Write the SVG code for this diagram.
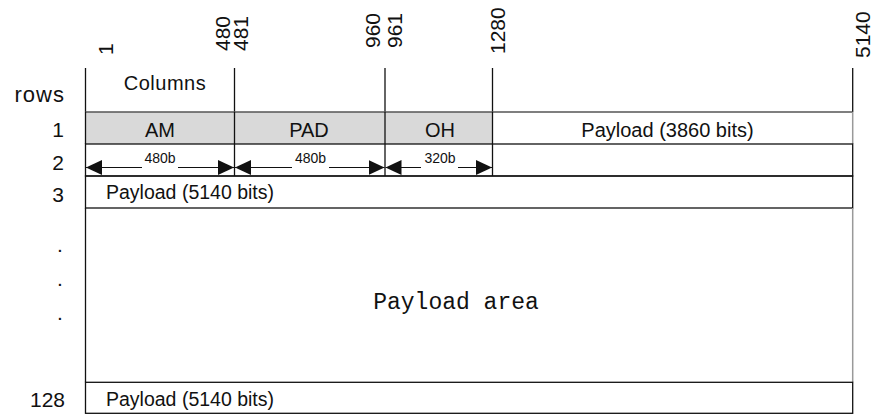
<svg xmlns="http://www.w3.org/2000/svg" width="873" height="415" viewBox="0 0 873 415">
<defs>
<style>
.t{font-family:"Liberation Sans",Arial,sans-serif;fill:#111}
.lbl{font-size:21px}
.cell{font-size:20px;text-anchor:middle}
.pl{font-size:19.5px}
.dim{font-size:14px;text-anchor:middle}
.ln{stroke:#111;stroke-width:1.3;fill:none}
.lg{stroke:#999;stroke-width:1.5;fill:none}
.arr{stroke:#111;stroke-width:1.2;fill:none;marker-end:url(#ah)}
</style>
<marker id="ah" viewBox="0 0 16 15" refX="16" refY="7.5" markerWidth="16" markerHeight="15" markerUnits="userSpaceOnUse" orient="auto">
<path d="M0,0 L16,7.5 L0,15 Z" fill="#111"/>
</marker>
</defs>
<rect width="873" height="415" fill="#fff"/>

<g id="column-numbers" class="t lbl">
<text transform="translate(113,55) rotate(-90)">1</text>
<text transform="translate(230,51) rotate(-90)">480</text>
<text transform="translate(248,51) rotate(-90)">481</text>
<text transform="translate(380,48) rotate(-90)">960</text>
<text transform="translate(402,48) rotate(-90)">961</text>
<text transform="translate(505,54) rotate(-90)">1280</text>
<text transform="translate(870,58) rotate(-90)">5140</text>
</g>

<g id="row-labels" class="t lbl" text-anchor="end">
<text x="65" y="102" font-size="22" letter-spacing="1">rows</text>
<text x="64" y="137">1</text>
<text x="64" y="170">2</text>
<text x="64" y="202">3</text>
<text x="60" y="252" text-anchor="middle">.</text>
<text x="60" y="286" text-anchor="middle">.</text>
<text x="60" y="320" text-anchor="middle">.</text>
<text x="65" y="407">128</text>
</g>

<g id="header">
<line class="ln" x1="85.5" y1="68" x2="85.5" y2="112"/>
<line class="ln" x1="234.5" y1="68" x2="234.5" y2="112"/>
<line class="ln" x1="385" y1="68" x2="385" y2="112"/>
<line class="ln" x1="492.5" y1="68" x2="492.5" y2="112"/>
<line class="ln" x1="852.7" y1="68" x2="852.7" y2="112"/>
<text class="t cell" x="165" y="90" letter-spacing="0.5">Columns</text>
</g>

<g id="row1">
<rect x="85.5" y="112" width="407" height="32" fill="#d9d9d9"/>
<line x1="85.5" y1="112" x2="852.7" y2="112" stroke="#555" stroke-width="1.5"/>
<line class="lg" x1="852.7" y1="112" x2="852.7" y2="144"/>
<line class="ln" x1="85.5" y1="112" x2="85.5" y2="144"/>
<line class="ln" x1="234.5" y1="112" x2="234.5" y2="144"/>
<line class="ln" x1="385" y1="112" x2="385" y2="144"/>
<line class="ln" x1="492.5" y1="112" x2="492.5" y2="144"/>
<text class="t cell" x="160" y="137">AM</text>
<text class="t cell" x="309" y="137">PAD</text>
<text class="t cell" x="440" y="137">OH</text>
<text class="t cell" x="667.5" y="137" font-size="19.5">Payload (3860 bits)</text>
</g>

<g id="row2">
<rect class="ln" x="85.5" y="144" width="767.2" height="32"/>
<line class="ln" x1="234.5" y1="144" x2="234.5" y2="176"/>
<line class="ln" x1="385" y1="144" x2="385" y2="176"/>
<line class="ln" x1="492.5" y1="144" x2="492.5" y2="176"/>
<text class="t dim" x="160" y="163">480b</text>
<text class="t dim" x="310.5" y="163">480b</text>
<text class="t dim" x="440" y="163">320b</text>
</g>

<g id="connectors">
<path class="arr" d="M142,167.5 L86,167.5"/>
<path class="arr" d="M178,167.5 L234,167.5"/>
<path class="arr" d="M292,167.5 L235,167.5"/>
<path class="arr" d="M329,167.5 L384.5,167.5"/>
<path class="arr" d="M421,167.5 L385.5,167.5"/>
<path class="arr" d="M458,167.5 L492,167.5"/>
</g>

<g id="row3">
<rect class="ln" x="85.5" y="176" width="767.2" height="32"/>
<text class="t pl" x="106" y="199">Payload (5140 bits)</text>
</g>

<g id="payload-area">
<line class="ln" x1="85.5" y1="208" x2="85.5" y2="382.3"/>
<line class="lg" x1="852.7" y1="208" x2="852.7" y2="382.3"/>
<text x="456" y="309" font-family="'Liberation Mono','DejaVu Sans Mono',monospace" font-size="23" text-anchor="middle" fill="#111">Payload area</text>
</g>

<g id="row128">
<rect class="ln" x="85.5" y="382.3" width="767.2" height="31"/>
<text class="t pl" x="106" y="406">Payload (5140 bits)</text>
</g>
</svg>
